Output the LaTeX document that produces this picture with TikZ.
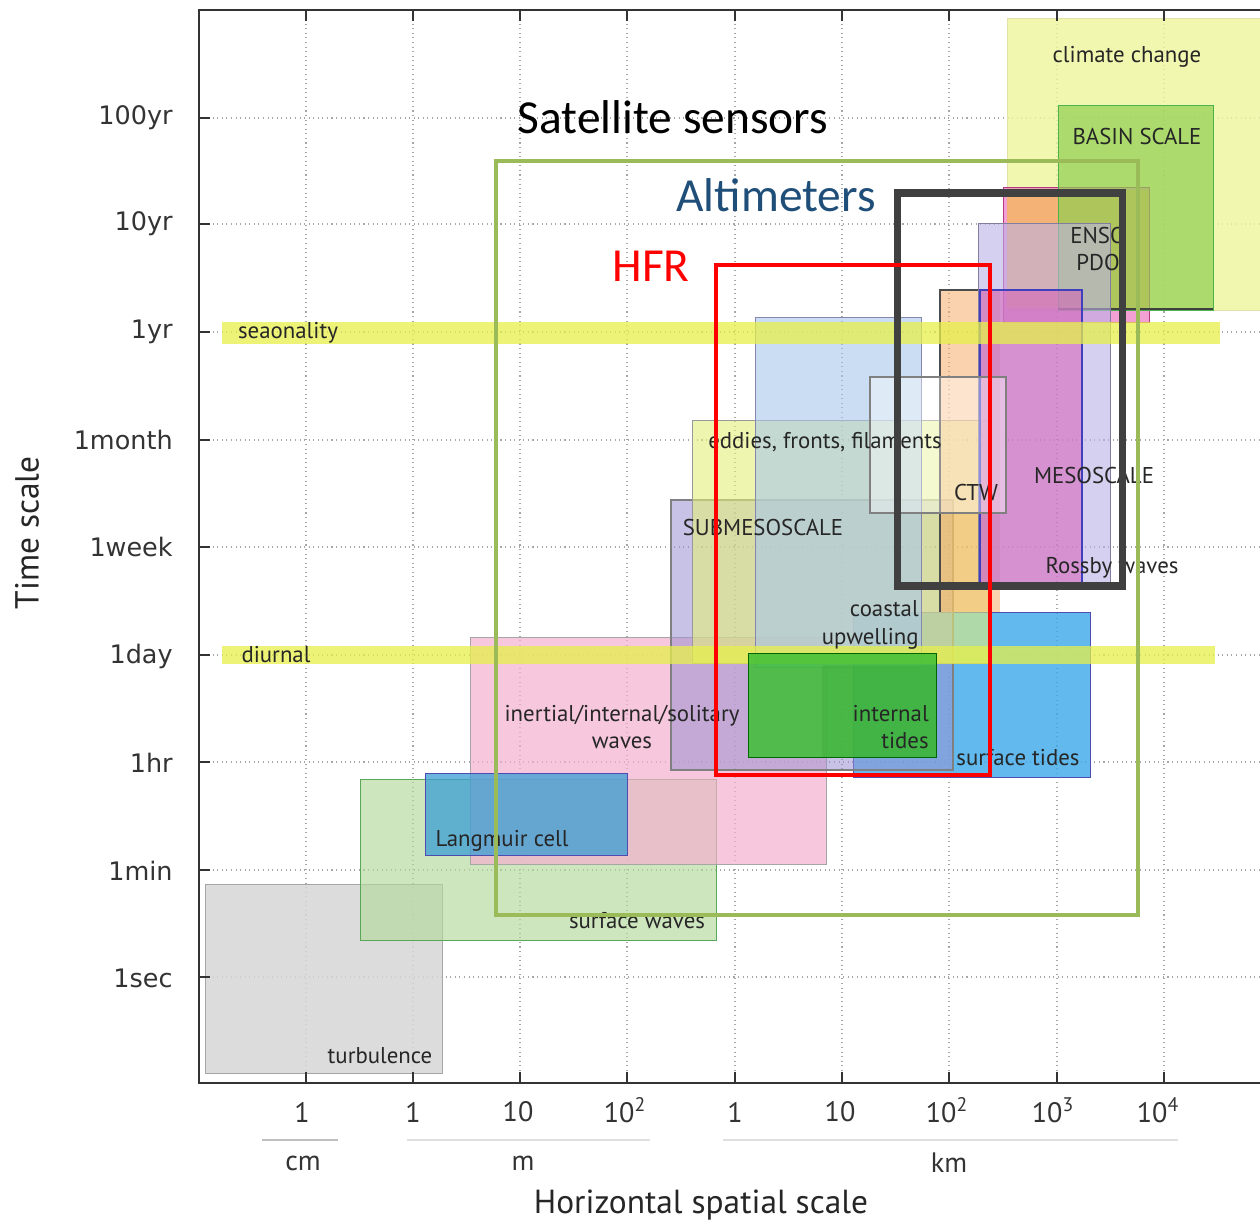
\documentclass[tikz,border=0pt]{standalone}
\usepackage{fontspec}
\setmainfont{PT Sans}
\newfontfamily\calib{Carlito}
\newfontfamily\dejav{DejaVu Sans}
\definecolor{cturb}{HTML}{D6D6D6}
\definecolor{csurfw}{HTML}{B5DA9C}
\definecolor{cinert}{HTML}{F3B0CF}
\definecolor{clang}{HTML}{3A9ED4}
\definecolor{csub}{HTML}{9C92D2}
\definecolor{cedd}{HTML}{E4EF7A}
\definecolor{ccoast}{HTML}{A9C7EA}
\definecolor{corange}{HTML}{F6A65E}
\definecolor{clav}{HTML}{BBB1E6}
\definecolor{cmeso}{HTML}{D65FB8}
\definecolor{cstide}{HTML}{3AA8EA}
\definecolor{citide}{HTML}{3DBF35}
\definecolor{censop}{HTML}{EE6FC0}
\definecolor{censo}{HTML}{F7B865}
\definecolor{cclim}{HTML}{EEF59C}
\definecolor{cbasin}{HTML}{8FCE50}
\definecolor{cband}{HTML}{E6F04A}
\definecolor{csat}{HTML}{9BBB59}
\definecolor{calt}{HTML}{404040}
\definecolor{caltt}{HTML}{1F4E79}
\definecolor{caxis}{HTML}{333333}
\begin{document}
\begin{tikzpicture}[x=0.02cm,y=-0.02cm,
  lbl/.style={font=\fontsize{13}{15.5}\selectfont, text=black!85, inner sep=0pt},
  ylbl/.style={font=\dejav\fontsize{14.5}{16}\selectfont, text=black!80, anchor=east, inner sep=0pt},
  xlbl/.style={font=\fontsize{16}{18}\selectfont, text=black!80, inner sep=0pt},
  title/.style={font=\calib\fontsize{27}{30}\selectfont, inner sep=0pt},
  grid/.style={gray!70, dotted, line width=0.6pt},
  edge/.style={line width=0.5pt}]
\useasboundingbox (0,0) rectangle (1260,1223);
\fill[white] (0,0) rectangle (1260,1223);

% grid
\foreach \yy in {118,224,332,440,547,655,762,870,977}
  \draw[grid] (199,\yy) -- (1260,\yy);
\foreach \xx in {306,413,520,627,735,842,949,1057,1164}
  \draw[grid] (\xx,10) -- (\xx,1083);

% process boxes
\filldraw[fill=cturb, fill opacity=0.85, draw=gray!70, edge] (205,884) rectangle (442,1073);
\filldraw[fill=csurfw, fill opacity=0.65, draw=green!30!gray, edge] (360,779) rectangle (716,940);
\filldraw[fill=cinert, fill opacity=0.7, draw=gray!70, edge] (470,637) rectangle (826,864);
\filldraw[fill=clang, fill opacity=0.75, draw=blue!40!gray, edge] (425,773) rectangle (627,855);
\filldraw[fill=cstide, fill opacity=0.8, draw=blue!40!gray, edge] (853,612) rectangle (1090,777);
\filldraw[fill=csub, fill opacity=0.55, draw=gray, line width=1.2pt] (671,500) rectangle (953,770);
\filldraw[fill=cedd, fill opacity=0.6, draw=gray!80, edge] (692,420) rectangle (990,663);
\filldraw[fill=ccoast, fill opacity=0.6, draw=blue!20!gray!80, edge] (755,317) rectangle (921,667);
\filldraw[fill=cclim, fill opacity=0.8, draw=yellow!50!gray!50, edge] (1007,18) rectangle (1262,310);
\filldraw[fill=censop, fill opacity=0.65, draw=magenta!70!black, edge] (1003,187) rectangle (1149,322);
\fill[censo, fill opacity=0.8] (1007,190) rectangle (1149,308);
\filldraw[fill=cbasin, fill opacity=0.7, draw=green!40!gray, edge] (1058,105) rectangle (1213,310);
\draw[calt, line width=1.2pt] (1058,309) -- (1213,309);
\fill[corange, fill opacity=0.5] (940,290) rectangle (1000,612);
\draw[gray!60!black, line width=1.5pt] (940,612) -- (940,290) -- (1000,290);
\filldraw[fill=clav, fill opacity=0.6, draw=clav!70!black, edge] (978,223) rectangle (1110,585);
\filldraw[fill=cmeso, fill opacity=0.55, draw=blue!50!gray, line width=1pt] (980,290) rectangle (1082,585);
\filldraw[fill=white, fill opacity=0.4, draw=gray, line width=1pt] (870,377) rectangle (1006,513);

% bands
\fill[cband, fill opacity=0.75] (222,322) rectangle (1220,344);
\fill[cband, fill opacity=0.75] (222,646) rectangle (1215,664);

\filldraw[fill=citide, fill opacity=0.85, draw=green!40!black, edge] (748,653) rectangle (936,757);
\fill[citide!85!black, fill opacity=0.25] (822,665) rectangle (936,757);

% labels
\node[lbl] (lclim) at (1127,57) {climate change};
\node[lbl] (lbasin) at (1137,137) {BASIN SCALE};
\node[lbl, align=center] (lenso) at (1098,249) {ENSO\\PDO};
\node[lbl] (lmeso) at (1094,476) {MESOSCALE};
\node[lbl] (lross) at (1112,568) {Rossby waves};
\node[lbl] (lctw) at (976,493) {CTW};
\node[lbl] (ledd) at (825,442) {eddies, fronts, filaments};
\node[lbl] (lsub) at (763,528) {SUBMESOSCALE};
\node[lbl, align=right, anchor=east] (lcoast) at (919,625) {coastal\\upwelling};
\node[lbl, align=center] (linert) at (622,727) {inertial/internal/solitary\\waves};
\node[lbl, align=right, anchor=east] (litide) at (929,727) {internal\\tides};
\node[lbl] (lstide) at (1018,758) {surface tides};
\node[lbl] (llang) at (502,841) {Langmuir cell};
\node[lbl] (lsurfw) at (637,921) {surface waves};
\node[lbl] (lturb) at (380,1056) {turbulence};
\node[lbl] (ldiur) at (276,655) {diurnal};
\node[lbl] (lseas) at (288,333) {seaonality};

% frames
\draw[csat, line width=2.3pt] (496,161) rectangle (1138,915);
\draw[calt, line width=4pt] (897,193) rectangle (1122,586);
\draw[red, line width=2.3pt] (716,265) rectangle (990,775);

\node[title] (tsat) at (673,117) {Satellite sensors};
\node[title, text=caltt] (talt) at (776,195) {Altimeters};
\node[title, text=red] (thfr) at (651,266) {HFR};

% axes
\draw[caxis, line width=1.2pt] (1260,10) -- (199,10) -- (199,1083) -- (1260,1083);
\foreach \yy in {118,224,332,440,547,655,762,870,977}
  \draw[caxis, line width=1pt] (199,\yy) -- (210,\yy);
\foreach \xx in {306,413,520,627,735,842,949,1057,1164}
  {\draw[caxis, line width=1pt] (\xx,1083) -- (\xx,1072);
   \draw[caxis, line width=1pt] (\xx,10) -- (\xx,21);}

% y labels
\node[ylbl] (y1) at (173,118) {100yr};
\node[ylbl] (y2) at (173,224) {10yr};
\node[ylbl] (y3) at (173,332) {1yr};
\node[ylbl] (y4) at (173,440) {1month};
\node[ylbl] (y5) at (173,547) {1week};
\node[ylbl] (y6) at (173,656) {1day};
\node[ylbl] (y7) at (173,763) {1hr};
\node[ylbl] (y8) at (173,871) {1min};
\node[ylbl] (y9) at (173,978) {1sec};

% x labels
\node[xlbl] (x1) at (302,1112) {1};
\node[xlbl] (x2) at (413,1112) {1};
\node[xlbl] (x3) at (518,1112) {10};
\node[xlbl] (x4) at (625,1110) {10\textsuperscript{2}};
\node[xlbl] (x5) at (735,1112) {1};
\node[xlbl] (x6) at (840,1112) {10};
\node[xlbl] (x7) at (947,1110) {10\textsuperscript{2}};
\node[xlbl] (x8) at (1053,1110) {10\textsuperscript{3}};
\node[xlbl] (x9) at (1158,1110) {10\textsuperscript{4}};
\draw[gray!50, line width=1pt] (262,1140) -- (338,1140);
\draw[gray!25, line width=1pt] (407,1140) -- (650,1140);
\draw[gray!25, line width=1pt] (723,1140) -- (1178,1140);
\node[xlbl] (ucm) at (303,1163) {cm};
\node[xlbl] (um) at (523,1163) {m};
\node[xlbl] (ukm) at (949,1163) {km};

\node[font=\fontsize{19}{21}\selectfont, text=black!85, inner sep=0pt] (xt) at (701,1205) {Horizontal spatial scale};
\node[font=\fontsize{19}{21}\selectfont, text=black!85, inner sep=0pt, rotate=90] (yt) at (27,533) {Time scale};
\end{tikzpicture}
\end{document}
